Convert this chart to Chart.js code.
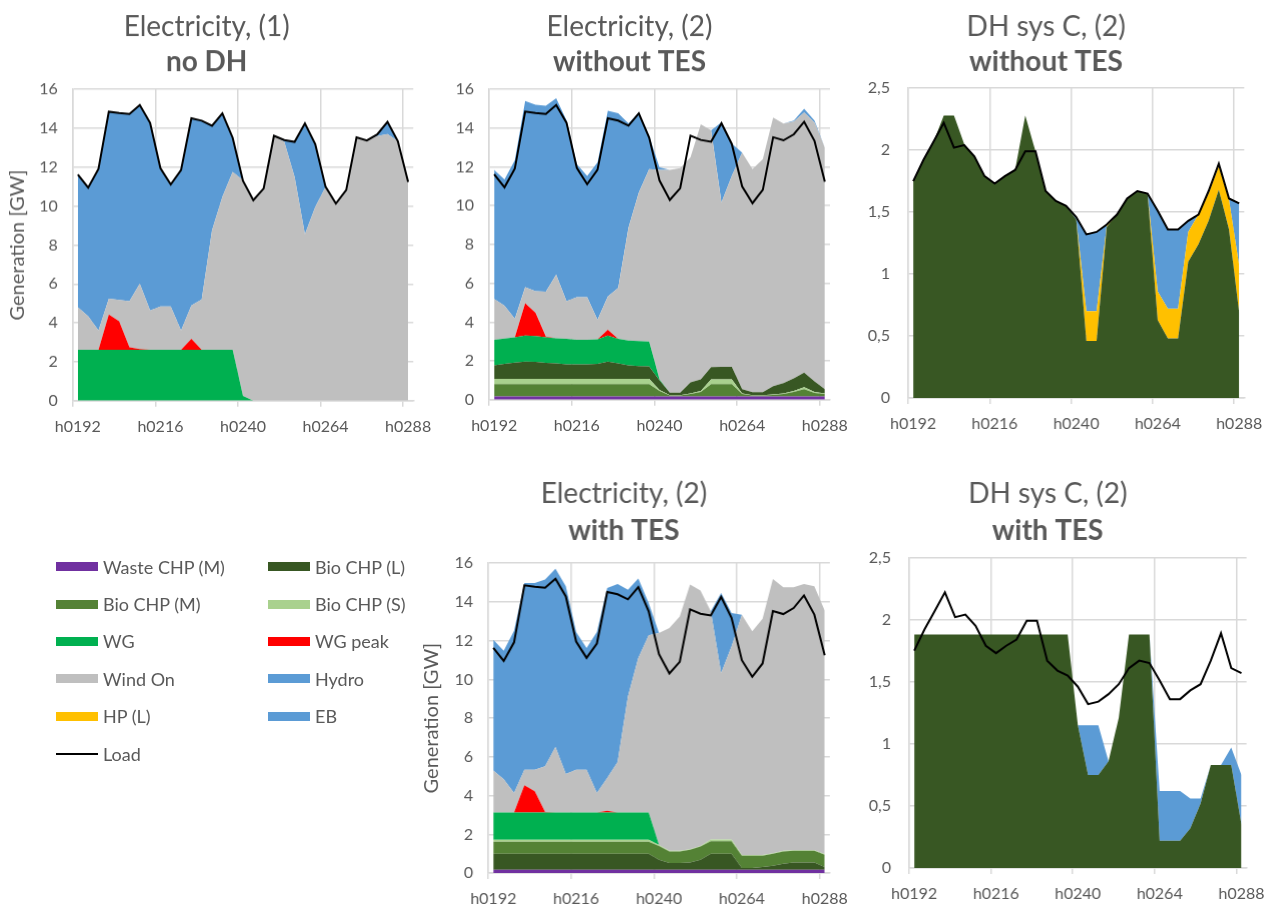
<!DOCTYPE html>
<html lang="en">
<head>
<meta charset="utf-8">
<title>Electricity and DH generation, h0192-h0288</title>
<script src="https://cdn.jsdelivr.net/npm/chart.js@4"></script>
<style>
    body { margin: 0; background: #fff; font-family: Lato, sans-serif; }
    #page { position: relative; width: 1272px; height: 911px; overflow: hidden; }
    .panel { position: absolute; }
    #legend {
        position: absolute; left: 56px; top: 548px;
        display: grid; grid-template-columns: 212px 170px;
    }
    .item { height: 37.4px; display: flex; align-items: center; font-size: 18px; color: #595959; }
    .swatch { width: 42px; height: 9px; margin-right: 5px; }
    .swatch.line { height: 2px; }
</style>
</head>
<body>
<div id="page">
    <div class="panel" id="box1"><canvas id="c1"></canvas></div>
    <div class="panel" id="box2"><canvas id="c2"></canvas></div>
    <div class="panel" id="box3"><canvas id="c3"></canvas></div>
    <div class="panel" id="box4"><canvas id="c4"></canvas></div>
    <div class="panel" id="box5"><canvas id="c5"></canvas></div>
    <div id="legend"></div>
</div>
<script>
// hours, every 3 h
const hours = ['h0192','h0195','h0198','h0201','h0204','h0207','h0210','h0213','h0216','h0219','h0222',
    'h0225','h0228','h0231','h0234','h0237','h0240','h0243','h0246','h0249','h0252','h0255','h0258',
    'h0261','h0264','h0267','h0270','h0273','h0276','h0279','h0282','h0285','h0288'];

const seriesNames = ['Waste CHP (M)', 'Bio CHP (L)', 'Bio CHP (M)', 'Bio CHP (S)', 'WG', 'WG peak',
    'Wind On', 'Hydro', 'HP (L)', 'EB', 'Load'];
const seriesColors = ['#7030A0', '#385723', '#548235', '#A9D18E', '#00B050', '#FF0000',
    '#BFBFBF', '#5B9BD5', '#FFC000', '#5B9BD5', '#000000'];

// electricity load [GW]
const elLoad = [11.62,10.95,11.91,14.85,14.78,14.73,15.19,14.28,11.95,11.11,11.85,14.51,14.39,14.13,14.76,13.51,
    11.30,10.30,10.90,13.61,13.39,13.30,14.25,13.18,10.99,10.13,10.82,13.53,13.37,13.68,14.33,13.34,11.24];
// DH sys C load [GW]
const dhLoad = [1.75,1.92,2.07,2.22,2.02,2.04,1.95,1.79,1.73,1.79,1.84,1.99,1.99,1.67,1.59,1.55,
    1.46,1.32,1.34,1.40,1.48,1.61,1.67,1.65,1.51,1.36,1.36,1.43,1.48,1.67,1.89,1.61,1.57];

// Electricity, (1) no DH
const p1WG = [2.61,2.61,2.61,2.61,2.61,2.61,2.61,2.61,2.61,2.61,2.61,2.61,2.61,2.61,2.61,2.61,
    0.25,0,0,0,0,0,0,0,0,0,0,0,0,0,0,0,0];
const p1Peak = [0,0,0,1.82,1.48,0.14,0.05,0,0,0,0,0.57,0,0,0,0,
    0,0,0,0,0,0,0,0,0,0,0,0,0,0,0,0,0];
const p1Wind = [2.20,1.73,1.00,0.81,1.09,2.37,3.35,2.03,2.23,2.23,1.00,1.71,2.59,6.15,7.86,9.15,
    11.08,10.30,10.90,13.61,13.30,11.50,8.55,9.96,10.99,10.13,10.82,13.53,13.37,13.60,13.70,13.34,11.24];
const p1Hydro = [6.81,6.61,8.30,9.61,9.60,9.61,9.18,9.64,7.11,6.27,8.24,9.62,9.19,5.37,4.29,1.75,
    0,0,0,0,0.09,1.80,5.70,3.22,0,0,0,0,0,0.08,0.63,0,0];

// Electricity, (2) without TES
const p2Waste = [0.17,0.17,0.17,0.17,0.17,0.17,0.17,0.17,0.17,0.17,0.17,0.17,0.17,0.17,0.17,0.17,
    0.17,0.17,0.17,0.17,0.17,0.17,0.17,0.17,0.17,0.17,0.17,0.17,0.17,0.17,0.17,0.17,0.17];
const p2BioM = [0.63,0.63,0.63,0.63,0.63,0.63,0.63,0.63,0.63,0.63,0.63,0.63,0.63,0.63,0.63,0.63,
    0.28,0.05,0.05,0.13,0.23,0.63,0.63,0.63,0.13,0.05,0.05,0.08,0.13,0.23,0.38,0.18,0.13];
const p2BioS = [0.27,0.27,0.27,0.27,0.27,0.27,0.27,0.27,0.27,0.27,0.27,0.27,0.27,0.27,0.27,0.27,
    0.05,0.02,0.02,0.02,0.05,0.25,0.25,0.25,0.03,0.02,0.02,0.02,0.03,0.05,0.10,0.05,0.03];
const p2BioL = [0.70,0.78,0.85,0.90,0.88,0.83,0.80,0.75,0.75,0.75,0.78,0.90,0.80,0.70,0.66,0.65,
    0.50,0.13,0.13,0.58,0.60,0.63,0.65,0.65,0.22,0.15,0.15,0.43,0.52,0.65,0.75,0.55,0.22];
const p2WG = [1.32,1.30,1.30,1.34,1.33,1.32,1.30,1.32,1.27,1.27,1.27,1.34,1.27,1.28,1.29,1.28,
    0.05,0,0,0,0,0,0,0,0,0,0,0,0,0,0,0,0];
const p2Peak = [0,0,0,1.66,1.20,0.04,0,0,0,0,0,0.29,0,0,0,0,
    0,0,0,0,0,0,0,0,0,0,0,0,0,0,0,0,0];
const p2Wind = [2.11,1.70,0.95,0.83,1.11,2.31,3.28,1.94,2.19,2.19,1.00,1.72,2.62,5.83,7.67,8.89,
    10.79,11.47,11.57,11.59,13.15,12.21,8.47,9.84,12.19,11.50,12.01,13.85,13.39,13.24,13.40,13.34,12.45];
const p2Hydro = [6.64,6.51,8.18,9.60,9.61,9.58,9.09,9.33,6.86,6.26,8.11,9.57,9.01,5.37,4.11,1.71,
    0.13,0,0,0,0,0,4.13,1.66,0,0,0,0,0,0.05,0.20,0.10,0];

// Electricity, (2) with TES
const p4Waste = [0.17,0.17,0.17,0.17,0.17,0.17,0.17,0.17,0.17,0.17,0.17,0.17,0.17,0.17,0.17,0.17,
    0.17,0.17,0.17,0.17,0.17,0.17,0.17,0.17,0.17,0.17,0.17,0.17,0.17,0.17,0.17,0.17,0.17];
const p4BioL = [0.83,0.83,0.83,0.83,0.83,0.83,0.83,0.83,0.83,0.83,0.83,0.83,0.83,0.83,0.83,0.83,
    0.52,0.35,0.35,0.38,0.52,0.83,0.83,0.83,0.09,0.09,0.14,0.21,0.31,0.38,0.38,0.38,0.14];
const p4BioM = [0.62,0.62,0.62,0.62,0.62,0.62,0.62,0.62,0.62,0.62,0.62,0.62,0.62,0.62,0.62,0.62,
    0.71,0.60,0.60,0.65,0.68,0.65,0.65,0.65,0.64,0.64,0.59,0.62,0.64,0.60,0.60,0.60,0.64];
const p4BioS = [0.10,0.10,0.10,0.10,0.10,0.10,0.10,0.10,0.10,0.10,0.10,0.10,0.10,0.10,0.10,0.10,
    0.05,0.03,0.03,0.03,0.03,0.08,0.08,0.08,0.03,0.03,0.03,0.03,0.03,0.03,0.03,0.03,0.03];
const p4WG = [1.41,1.41,1.41,1.41,1.41,1.41,1.41,1.41,1.41,1.41,1.41,1.41,1.41,1.41,1.41,1.41,
    0,0,0,0,0,0,0,0,0,0,0,0,0,0,0,0,0];
const p4Peak = [0,0,0,1.40,1.09,0.03,0,0,0,0,0,0.09,0,0,0,0,
    0,0,0,0,0,0,0,0,0,0,0,0,0,0,0,0,0];
const p4Wind = [2.17,1.72,1.00,0.81,1.12,2.35,3.38,1.98,2.21,2.21,1.00,1.69,2.60,5.99,7.97,9.14,
    10.94,11.50,12.10,13.66,13.18,11.78,8.60,9.97,12.41,11.55,12.20,14.15,13.60,13.57,13.74,13.62,12.57];
const p4Hydro = [6.75,6.63,8.38,9.63,9.63,9.64,9.20,9.69,7.10,6.28,8.31,9.81,9.19,5.51,4.10,1.67,
    0,0,0,0,0,0,4.13,1.73,0,0,0,0,0,0,0,0,0];

// DH sys C, (2) without TES
const p3BioL = [1.75,1.92,2.07,2.28,2.28,2.05,1.95,1.79,1.73,1.79,1.84,2.28,1.99,1.67,1.59,1.55,
    1.44,0.46,0.46,1.38,1.48,1.61,1.67,1.65,0.63,0.48,0.48,1.10,1.24,1.43,1.68,1.36,0.69];
const p3HP = [0,0,0,0,0,0,0,0,0,0,0,0,0,0,0,0,
    0,0.24,0.24,0.01,0,0,0,0,0.23,0.24,0.24,0.24,0.24,0.22,0.19,0.24,0.38];
const p3EB = [0,0,0,0,0,0,0,0,0,0,0,0,0,0,0,0,
    0.02,0.62,0.64,0.01,0,0,0,0,0.65,0.64,0.64,0.09,0,0.02,0.02,0.01,0.50];

// DH sys C, (2) with TES
const p5BioL = [1.88,1.88,1.88,1.88,1.88,1.88,1.88,1.88,1.88,1.88,1.88,1.88,1.88,1.88,1.88,1.88,
    1.15,0.75,0.75,0.86,1.21,1.88,1.88,1.88,0.22,0.22,0.22,0.32,0.52,0.83,0.83,0.83,0.35];
const p5EB = [0,0,0,0,0,0,0,0,0,0,0,0,0,0,0,0,
    0,0.40,0.40,0,0,0,0,0,0.40,0.40,0.40,0.24,0.04,0,0,0.14,0.40];

const GRID = '#d9d9d9';
const TEXT = '#595959';
const TITLE_SIZE = 28;
const TITLE_LH = TITLE_SIZE * 1.2;
const X_H = 40;
const PAD_R = 30;

Chart.defaults.font.family = 'Lato';
Chart.defaults.color = TEXT;

// area = [left, top, right, bottom] of the plot area on the page
const panels = [
    { id: 'c1', box: 'box1', title: 'Electricity, (1)', sub: 'no DH', area: [72.7, 89.3, 413.3, 400],
      titleY: 27, gap: 1.6, yW: 72.7, axisX: 18, max: 16, step: 2, tickPad: 15, load: elLoad,
      series: [[4, p1WG], [5, p1Peak], [6, p1Wind], [7, p1Hydro]] },
    { id: 'c2', box: 'box2', title: 'Electricity, (2)', sub: 'without TES', area: [489.3, 89.3, 830.3, 399],
      titleY: 27, gap: 1.6, yW: 60, max: 16, step: 2, tickPad: 15, load: elLoad,
      series: [[0, p2Waste], [2, p2BioM], [3, p2BioS], [1, p2BioL], [4, p2WG], [5, p2Peak], [6, p2Wind], [7, p2Hydro]] },
    { id: 'c3', box: 'box3', title: 'DH sys C, (2)', sub: 'without TES', area: [908.3, 88.3, 1243.6, 398.3],
      titleY: 27, gap: 1.6, yW: 60, max: 2.5, step: 0.5, tickPad: 18, load: dhLoad,
      series: [[1, p3BioL], [8, p3HP], [9, p3EB]] },
    { id: 'c4', box: 'box4', title: 'Electricity, (2)', sub: 'with TES', area: [488.3, 563.3, 829.2, 873.3],
      titleY: 494, gap: 3.4, yW: 70, axisX: 432, max: 16, step: 2, tickPad: 15, load: elLoad,
      series: [[0, p4Waste], [1, p4BioL], [2, p4BioM], [3, p4BioS], [4, p4WG], [5, p4Peak], [6, p4Wind], [7, p4Hydro]] },
    { id: 'c5', box: 'box5', title: 'DH sys C, (2)', sub: 'with TES', area: [909, 557.7, 1245.6, 868.3],
      titleY: 494, gap: 3.4, yW: 60, max: 2.5, step: 0.5, tickPad: 18, load: dhLoad,
      series: [[1, p5BioL], [9, p5EB]] }
];

function makePanel(p) {
    const [left, top, right, bottom] = p.area;
    const cTop = p.titleY - TITLE_LH / 2;
    const cLeft = left - p.yW;
    const box = document.getElementById(p.box);
    box.style.left = cLeft + 'px';
    box.style.top = cTop + 'px';
    box.style.width = (right - left + p.yW + PAD_R) + 'px';
    box.style.height = (bottom - cTop + X_H) + 'px';
    const subPad = top - cTop - 2 * TITLE_LH - p.gap;

    const datasets = [{
        label: 'Load', data: p.load, stack: 'load',
        borderColor: '#000', borderWidth: 2, fill: false,
        pointRadius: 0, tension: 0
    }];
    p.series.forEach(([k, values], n) => {
        datasets.push({
            label: seriesNames[k], data: values, stack: 'gen',
            backgroundColor: seriesColors[k], borderColor: 'rgba(0,0,0,0)', borderWidth: 0,
            fill: n === 0 ? 'origin' : '-1', pointRadius: 0, tension: 0
        });
    });

    const yTitle = p.axisX !== undefined;
    new Chart(document.getElementById(p.id), {
        type: 'line',
        data: { labels: hours, datasets },
        options: {
            responsive: true,
            maintainAspectRatio: false,
            animation: false,
            layout: { padding: { right: PAD_R } },
            plugins: {
                legend: { display: false },
                tooltip: { enabled: false },
                title: {
                    display: true, text: p.title, color: TEXT,
                    font: { size: TITLE_SIZE, weight: 'normal', lineHeight: 1.2 },
                    padding: { top: 0, bottom: p.gap }
                },
                subtitle: {
                    display: true, text: p.sub, color: TEXT,
                    font: { size: TITLE_SIZE, weight: 'bold', lineHeight: 1.2 },
                    padding: { top: 0, bottom: subPad }
                }
            },
            scales: {
                x: {
                    offset: true,
                    grid: {
                        offset: true,
                        color: c => (c.index % 8 === 0 ? GRID : 'rgba(0,0,0,0)'),
                        lineWidth: 1.5, drawTicks: true, tickLength: 6
                    },
                    border: { color: GRID, width: 1.5 },
                    ticks: {
                        autoSkip: false, maxRotation: 0, minRotation: 0, padding: 10,
                        color: TEXT, font: { size: 16 },
                        callback: (v, i) => (i % 8 === 0 ? hours[i] : '')
                    },
                    afterFit: s => { s.height = X_H; }
                },
                y: {
                    stacked: true, min: 0, max: p.max,
                    grid: { color: GRID, lineWidth: 1.5, drawTicks: false },
                    border: { color: GRID, width: 1.5 },
                    ticks: {
                        stepSize: p.step, padding: p.tickPad, color: TEXT, font: { size: 16 },
                        callback: v => String(v).replace('.', ',')
                    },
                    title: {
                        display: yTitle, text: 'Generation [GW]', color: TEXT,
                        font: { size: 20 },
                        padding: { top: yTitle ? p.axisX - cLeft - 12 : 0, bottom: 0 }
                    },
                    afterFit: s => { s.width = p.yW; }
                }
            }
        }
    });
}

panels.forEach(makePanel);

// legend, two columns, row by row
const legend = document.getElementById('legend');
seriesNames.forEach((name, k) => {
    const item = document.createElement('div');
    item.className = 'item';
    const sw = document.createElement('span');
    sw.className = name === 'Load' ? 'swatch line' : 'swatch';
    sw.style.background = seriesColors[k];
    item.appendChild(sw);
    item.appendChild(document.createTextNode(name));
    legend.appendChild(item);
});
</script>
</body>
</html>
